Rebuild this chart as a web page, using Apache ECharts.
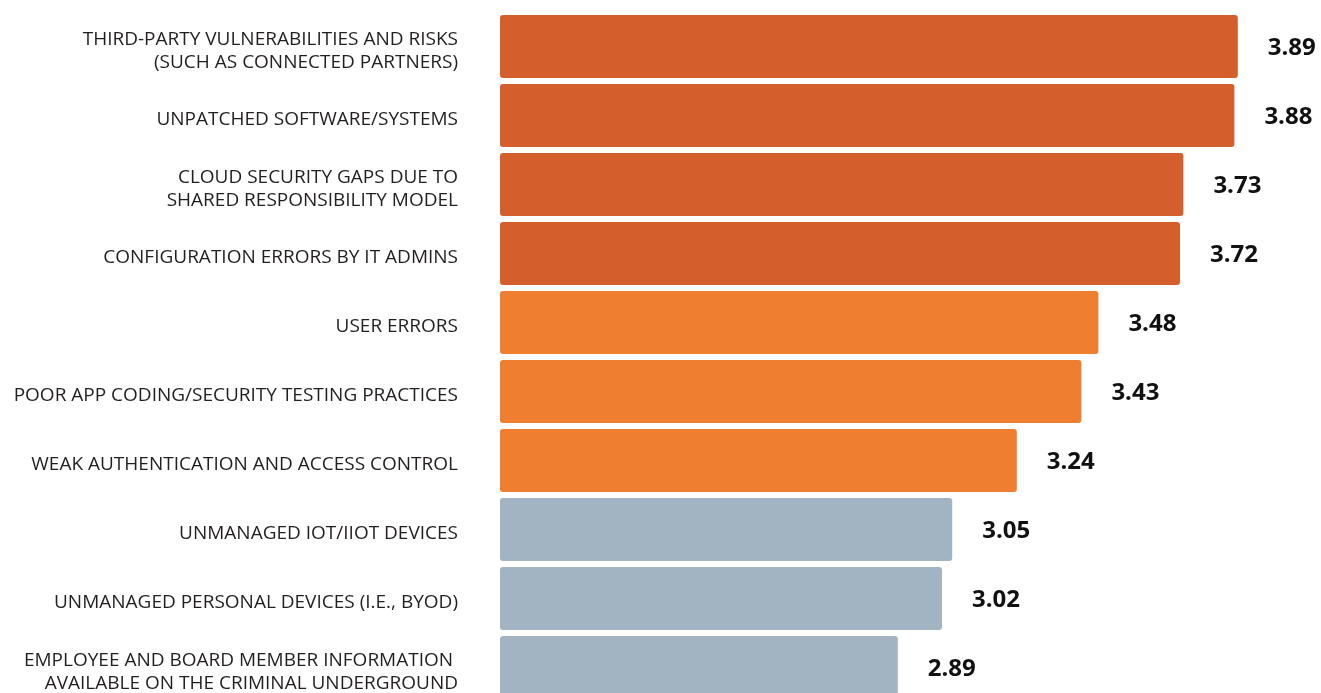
<!DOCTYPE html>
<html>
<head>
<meta charset="utf-8">
<script src="https://cdn.jsdelivr.net/npm/echarts@6/dist/echarts.min.js"></script>
<style>
html,body{margin:0;padding:0;background:#fff;overflow:hidden;}
#chart{width:1321px;height:702px;}
</style>
</head>
<body>
<div id="chart"></div>
<script>
const categories = [
  "THIRD-PARTY VULNERABILITIES AND RISKS\n(SUCH AS CONNECTED PARTNERS)",
  "UNPATCHED SOFTWARE/SYSTEMS",
  "CLOUD SECURITY GAPS DUE TO\nSHARED RESPONSIBILITY MODEL",
  "CONFIGURATION ERRORS BY IT ADMINS",
  "USER ERRORS",
  "POOR APP CODING/SECURITY TESTING PRACTICES",
  "WEAK AUTHENTICATION AND ACCESS CONTROL",
  "UNMANAGED IOT/IIOT DEVICES",
  "UNMANAGED PERSONAL DEVICES (I.E., BYOD)",
  "EMPLOYEE AND BOARD MEMBER INFORMATION \nAVAILABLE ON THE CRIMINAL UNDERGROUND"
];
const values = [3.89, 3.88, 3.73, 3.72, 3.48, 3.43, 3.24, 3.05, 3.02, 2.89];
const tiers = ["high","high","high","high","mid","mid","mid","low","low","low"];
const tierColors = { high: "#D55E2D", mid: "#F07E31", low: "#A2B4C1" };

const chart = echarts.init(document.getElementById('chart'));
chart.setOption({
  backgroundColor: '#ffffff',
  animation: false,
  grid: { left: 500, top: 12, right: 73, bottom: 0 },
  xAxis: {
    type: 'value', min: 1.72, max: 3.92,
    show: false
  },
  yAxis: {
    type: 'category',
    data: categories,
    inverse: true,
    axisLine: { show: false },
    axisTick: { show: false },
    axisLabel: {
      margin: 42,
      align: 'right',
      formatter: v => '{s| }\n' + v.split('\n').map(l => '{t|' + l + '}').join('\n'),
      rich: {
        s: { fontSize: 1, lineHeight: 9, height: 9 },
        t: {
          fontFamily: 'Open Sans',
          fontSize: 19,
          lineHeight: 23,
          color: '#231f20',
          align: 'right'
        }
      }
    }
  },
  series: [{
    type: 'bar',
    barCategoryGap: '8.7%',
    data: values.map((v, i) => ({
      value: v,
      itemStyle: { color: tierColors[tiers[i]] }
    })),
    itemStyle: { borderRadius: 3 },
    label: {
      show: true,
      position: 'right',
      distance: 30,
      offset: [0, 2],
      fontFamily: 'Open Sans',
      fontWeight: 'bold',
      fontSize: 24,
      color: '#111111',
      formatter: p => p.value.toFixed(2)
    }
  }]
});
</script>
</body>
</html>
